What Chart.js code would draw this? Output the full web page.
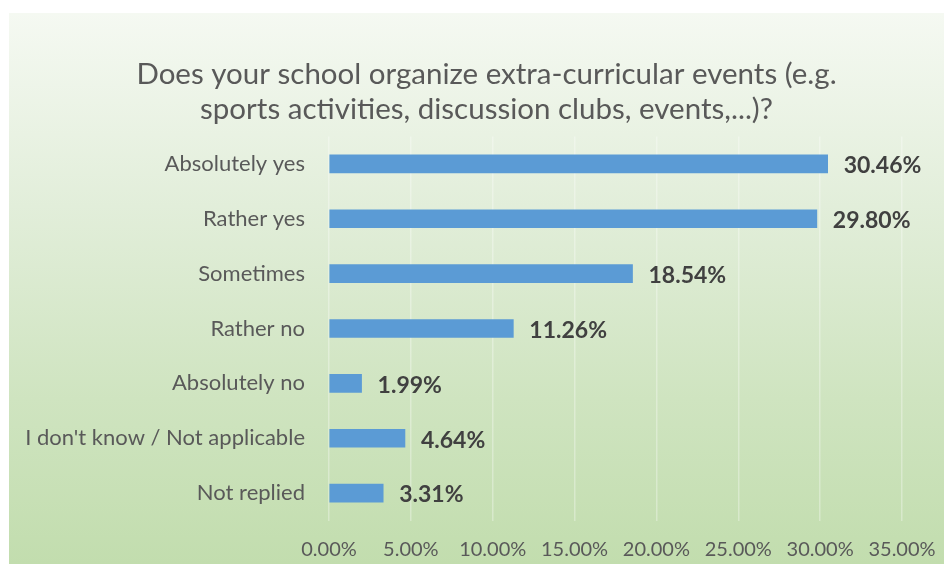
<!DOCTYPE html>
<html>
<head>
<meta charset="utf-8">
<script src="https://cdn.jsdelivr.net/npm/chart.js@4.4.1/dist/chart.umd.min.js"></script>
<style>
html,body{margin:0;padding:0;background:#ffffff;}
#wrap{position:absolute;left:9px;top:13px;width:935px;height:551px;
background:linear-gradient(to bottom,#f5f9f2 0%,#e2eeda 35%,#cfe4c0 70%,#c2ddae 100%);}
canvas{display:block;}
</style>
</head>
<body>
<div id="wrap"><canvas id="c" width="935" height="551"></canvas></div>
<script>
const titleLines = ["Does your school organize extra-curricular events (e.g.", "sports activities, discussion clubs, events,...)?"];
const categories = ["Absolutely yes", "Rather yes", "Sometimes", "Rather no", "Absolutely no", "I don't know / Not applicable", "Not replied"];
const values = [30.46, 29.80, 18.54, 11.26, 1.99, 4.64, 3.31];
const xMin = 0, xMax = 35, xStep = 5;

const valueLabels = {
  id: 'valueLabels',
  afterDatasetsDraw(chart) {
    const ctx = chart.ctx;
    const meta = chart.getDatasetMeta(0);
    ctx.save();
    ctx.font = 'bold 23px Lato';
    ctx.fillStyle = '#404040';
    ctx.textAlign = 'left';
    ctx.textBaseline = 'middle';
    meta.data.forEach((el, i) => {
      ctx.fillText(values[i].toFixed(2) + '%', el.x + 16, el.y + 2);
    });
    ctx.restore();
  }
};

const chartTitle = {
  id: 'chartTitle',
  afterDraw(chart) {
    const ctx = chart.ctx;
    ctx.save();
    ctx.font = '29.5px Lato';
    ctx.fillStyle = '#595959';
    ctx.textAlign = 'center';
    ctx.textBaseline = 'middle';
    const cx = chart.width / 2 + 10;
    titleLines.forEach((line, i) => {
      ctx.fillText(line, cx, 61 + i * 35);
    });
    ctx.restore();
  }
};

new Chart(document.getElementById('c'), {
  type: 'bar',
  data: {
    labels: categories,
    datasets: [{
      data: values,
      backgroundColor: '#5b9bd5',
      borderWidth: 0,
      barThickness: 18
    }]
  },
  options: {
    indexAxis: 'y',
    responsive: false,
    animation: false,
    layout: { padding: { left: 0, right: 42, top: 123.5, bottom: 0 } },
    plugins: {
      legend: { display: false },
      tooltip: { enabled: false },
      title: { display: false }
    },
    scales: {
      x: {
        min: xMin, max: xMax,
        ticks: {
          stepSize: xStep,
          color: '#595959',
          font: { family: 'Lato', size: 20 },
          padding: 17,
          maxRotation: 0,
          callback: v => v.toFixed(2) + '%'
        },
        grid: { color: 'rgba(255,255,255,0.32)', lineWidth: 1.5, drawTicks: false },
        border: { display: false },
        afterFit(scale) { scale.height = 43.5; scale.paddingRight = 0; scale.paddingLeft = 0; }
      },
      y: {
        ticks: {
          color: '#595959',
          font: { family: 'Lato', size: 22 },
          padding: 16
        },
        grid: { display: false },
        border: { display: false },
        afterFit(scale) { scale.width = 320; }
      }
    }
  },
  plugins: [valueLabels, chartTitle]
});
</script>
</body>
</html>
